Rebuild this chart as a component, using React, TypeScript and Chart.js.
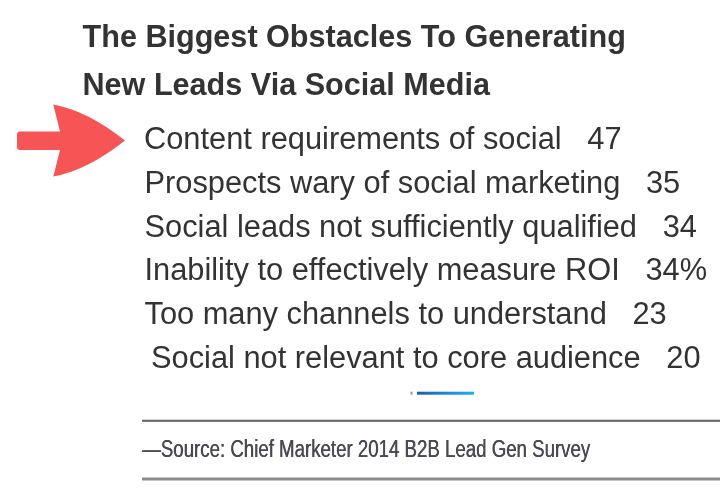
import React, { useEffect, useRef } from "react";
import { Chart, registerables } from "chart.js";

Chart.register(...registerables);

// ---- data ----
const titleLines = ["The Biggest Obstacles To Generating", "New Leads Via Social Media"];
const categories = [
  "Content requirements of social",
  "Prospects wary of social marketing",
  "Social leads not sufficiently qualified",
  "Inability to effectively measure ROI",
  "Too many channels to understand",
  "Social not relevant to core audience",
];
const values = [47, 35, 34, 34, 23, 20];
const valueSuffixes = ["", "", "", "%", "", ""];
const sourceText = "\u2014Source: Chief Marketer 2014 B2B Lead Gen Survey";

// ---- styles ----
const FONT = "'Liberation Sans', Arial, Helvetica, sans-serif";
const TITLE_SIZE = 30.6;
const LIST_SIZE = 30.8;
const TEXT_COLOR = "#333333";
const ARROW_COLOR = "#F75555";
const rowIndent = [61.5, 62, 62, 62, 62, 68.5];

const decorPlugin = {
  id: "decor",
  afterDatasetsDraw(chart: any) {
    const ctx: CanvasRenderingContext2D = chart.ctx;
    const ys = chart.scales.y;
    const area = chart.chartArea;
    const left = area.left;
    const data = chart.data.datasets[0].data as number[];
    const labels = chart.data.labels as string[];

    ctx.save();
    // list text
    ctx.font = `${LIST_SIZE}px ${FONT}`;
    ctx.fillStyle = TEXT_COLOR;
    ctx.textAlign = "left";
    ctx.textBaseline = "alphabetic";
    labels.forEach((lab, i) => {
      const py = ys.getPixelForValue(i) + LIST_SIZE * 0.357 + 1;
      ctx.fillText(`${lab}   ${data[i]}${valueSuffixes[i]}`, left + rowIndent[i], py);
    });

    // arrow pointing at first row
    const tipX = left + 42.5;
    const tipY = ys.getPixelForValue(0) + 3;
    const sL = tipX - 108, sT = tipY - 9, sB = tipY + 9.5, jX = tipX - 65;
    const hX = tipX - 71.7, hT = tipY - 36, hB = tipY + 36;
    const r = 3;
    ctx.beginPath();
    ctx.moveTo(sL + r, sT);
    ctx.lineTo(jX, sT);
    ctx.lineTo(hX, hT);
    ctx.quadraticCurveTo(tipX - 38, tipY - 30, tipX, tipY);
    ctx.quadraticCurveTo(tipX - 38, tipY + 30, hX, hB);
    ctx.lineTo(jX, sB);
    ctx.lineTo(sL + r, sB);
    ctx.arcTo(sL, sB, sL, sB - r, r);
    ctx.lineTo(sL, sT + r);
    ctx.arcTo(sL, sT, sL + r, sT, r);
    ctx.closePath();
    ctx.fillStyle = ARROW_COLOR;
    ctx.fill();

    // bottom decorations
    const b = area.bottom;
    const lx = left + 59.5;
    ctx.filter = "blur(0.6px)";
    // small blue bar
    const g = ctx.createLinearGradient(left + 334.5, 0, left + 391.5, 0);
    g.addColorStop(0, "#1a5fb4");
    g.addColorStop(1, "#1cb0f0");
    ctx.fillStyle = g;
    ctx.fillRect(left + 334.5, b + 14, 57, 3);
    ctx.fillStyle = "#999";
    ctx.fillRect(left + 328, b + 14, 2, 3);
    // rule 1
    ctx.fillStyle = "#6a6a6a";
    ctx.fillRect(lx, b + 42, chart.width - lx, 2.2);
    // source text
    ctx.filter = "blur(0.7px)";
    ctx.font = `23px ${FONT}`;
    ctx.fillStyle = "#4a4a56";
    const w = ctx.measureText(sourceText).width;
    ctx.save();
    ctx.translate(lx, b + 79.6);
    ctx.scale(448 / w, 1);
    ctx.fillText(sourceText, 0, 0);
    ctx.fillText(sourceText, 0.5, 0);
    ctx.restore();
    // rule 2
    ctx.filter = "blur(0.6px)";
    ctx.fillStyle = "#8c8c8c";
    ctx.fillRect(lx, b + 99.8, chart.width - lx, 3);
    ctx.restore();
  },
};

export default function App() {
  const ref = useRef<HTMLCanvasElement>(null);
  useEffect(() => {
    if (!ref.current) return;
    const chart = new Chart(ref.current, {
      type: "bar",
      data: {
        labels: categories,
        datasets: [
          {
            data: values,
            backgroundColor: "rgba(0,0,0,0)",
            borderWidth: 0,
          },
        ],
      },
      options: {
        indexAxis: "y",
        animation: false,
        responsive: true,
        maintainAspectRatio: false,
        layout: { padding: { left: 82.5, right: 0, top: 0, bottom: 112.3 } },
        scales: {
          x: { display: false, min: 0, max: 50 },
          y: { display: false },
        },
        plugins: {
          legend: { display: false },
          tooltip: { enabled: false },
          title: {
            display: true,
            text: titleLines,
            align: "start",
            color: TEXT_COLOR,
            font: { family: FONT, size: TITLE_SIZE, weight: "bold", lineHeight: 48.4 / TITLE_SIZE },
            padding: { top: 14.4, bottom: 4.35 },
          },
        },
      },
      plugins: [decorPlugin],
    });
    return () => chart.destroy();
  }, []);
  return (
    <div style={{ position: "absolute", left: 0, top: 0, width: 720, height: 490, background: "#fff" }}>
      <canvas ref={ref} />
    </div>
  );
}
